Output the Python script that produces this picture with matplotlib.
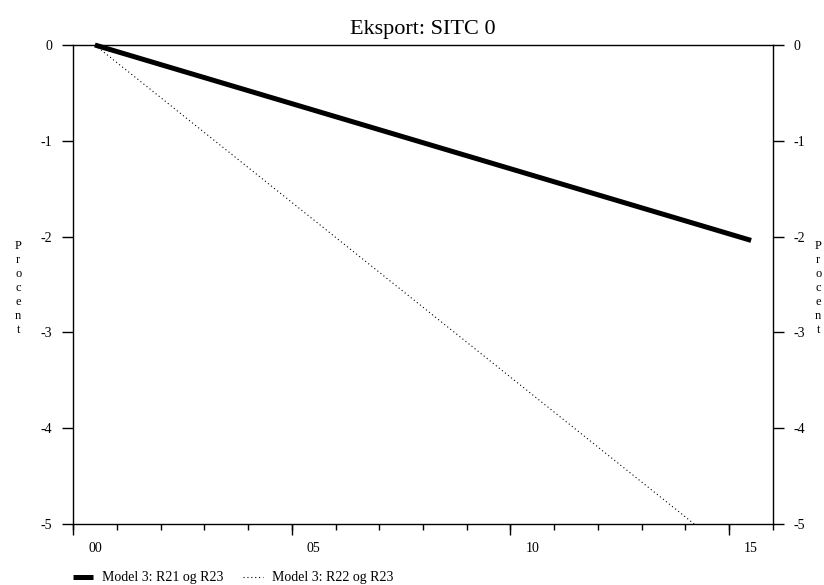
import numpy as np
import matplotlib.pyplot as plt
from matplotlib.lines import Line2D

plt.rcParams['font.family'] = ['Liberation Serif', 'DejaVu Serif']

# Annual data 2000-2015 (percent deviation)
years = np.arange(2000, 2016)
r21_r23 = [0.0, -0.136, -0.272, -0.408, -0.544, -0.680, -0.816, -0.952,
           -1.088, -1.224, -1.360, -1.496, -1.632, -1.768, -1.904, -2.040]
r22_r23 = [0.0, -0.365, -0.730, -1.095, -1.460, -1.825, -2.190, -2.555,
           -2.920, -3.285, -3.650, -4.015, -4.380, -4.745, -5.110, -5.475]
xlabels = ['00', '05', '10', '15']
label_years = [2000, 2005, 2010, 2015]
legend_labels = ['Model 3: R21 og R23', 'Model 3: R22 og R23']

W, H = 824, 585
fig = plt.figure(figsize=(W / 100, H / 100), dpi=100)
ax = fig.add_axes([0.0886, 0.1043, 0.8495, 0.8188])

# data plotted at the middle of each year
ax.plot(years + 0.5, r21_r23, color='black', lw=3.6, solid_capstyle='butt', clip_on=False, zorder=3)
ax.plot(years + 0.5, r22_r23, color='black', lw=0.8, linestyle=(0, (1, 2.5)))

ax.set_xlim(2000, 2016)
ax.set_ylim(-5, 0)

# year labels centred in the year, small ticks at every year, long ticks every 5
ax.set_xticks([y + 0.5 for y in label_years], xlabels)
ax.set_xticks(np.arange(2000, 2017), minor=True)
ax.tick_params(axis='x', which='major', length=0, pad=13, labelsize=10)
ax.tick_params(axis='x', which='minor', length=4, width=1, direction='out')
sec = ax.secondary_xaxis('bottom')
sec.set_xticks(label_years, ['' for _ in label_years])
sec.tick_params(length=8, width=1, direction='out')
sec.spines['bottom'].set_visible(False)

ax.set_yticks([0, -1, -2, -3, -4, -5])
ax.set_yticklabels(['0', '-1', '-2', '-3', '-4', '-5'])
ax.tick_params(axis='y', which='major', length=8, width=1, direction='out',
               left=True, right=True, labelleft=True, labelright=True, pad=7, labelsize=10)

for s in ax.spines.values():
    s.set_linewidth(1)

ax.set_title('Eksport: SITC 0', fontsize=16, pad=8)

procent = '\n'.join('Procent')
fig.text(0.022, 1 - 288 / H, procent, ha='center', va='center', fontsize=9, linespacing=1.22)
fig.text(0.993, 1 - 288 / H, procent, ha='center', va='center', fontsize=9, linespacing=1.22)

# legend below the plot
ly = 1 - 577 / H
fig.add_artist(Line2D([73 / W, 93 / W], [ly, ly], color='black', lw=3.6, solid_capstyle='butt'))
fig.text(102 / W, ly, legend_labels[0], ha='left', va='center', fontsize=10)
fig.add_artist(Line2D([243 / W, 263 / W], [ly, ly], color='black', lw=0.8, linestyle=(0, (1, 2.5))))
fig.text(272 / W, ly, legend_labels[1], ha='left', va='center', fontsize=10)

fig.savefig('out.png', dpi=100)
